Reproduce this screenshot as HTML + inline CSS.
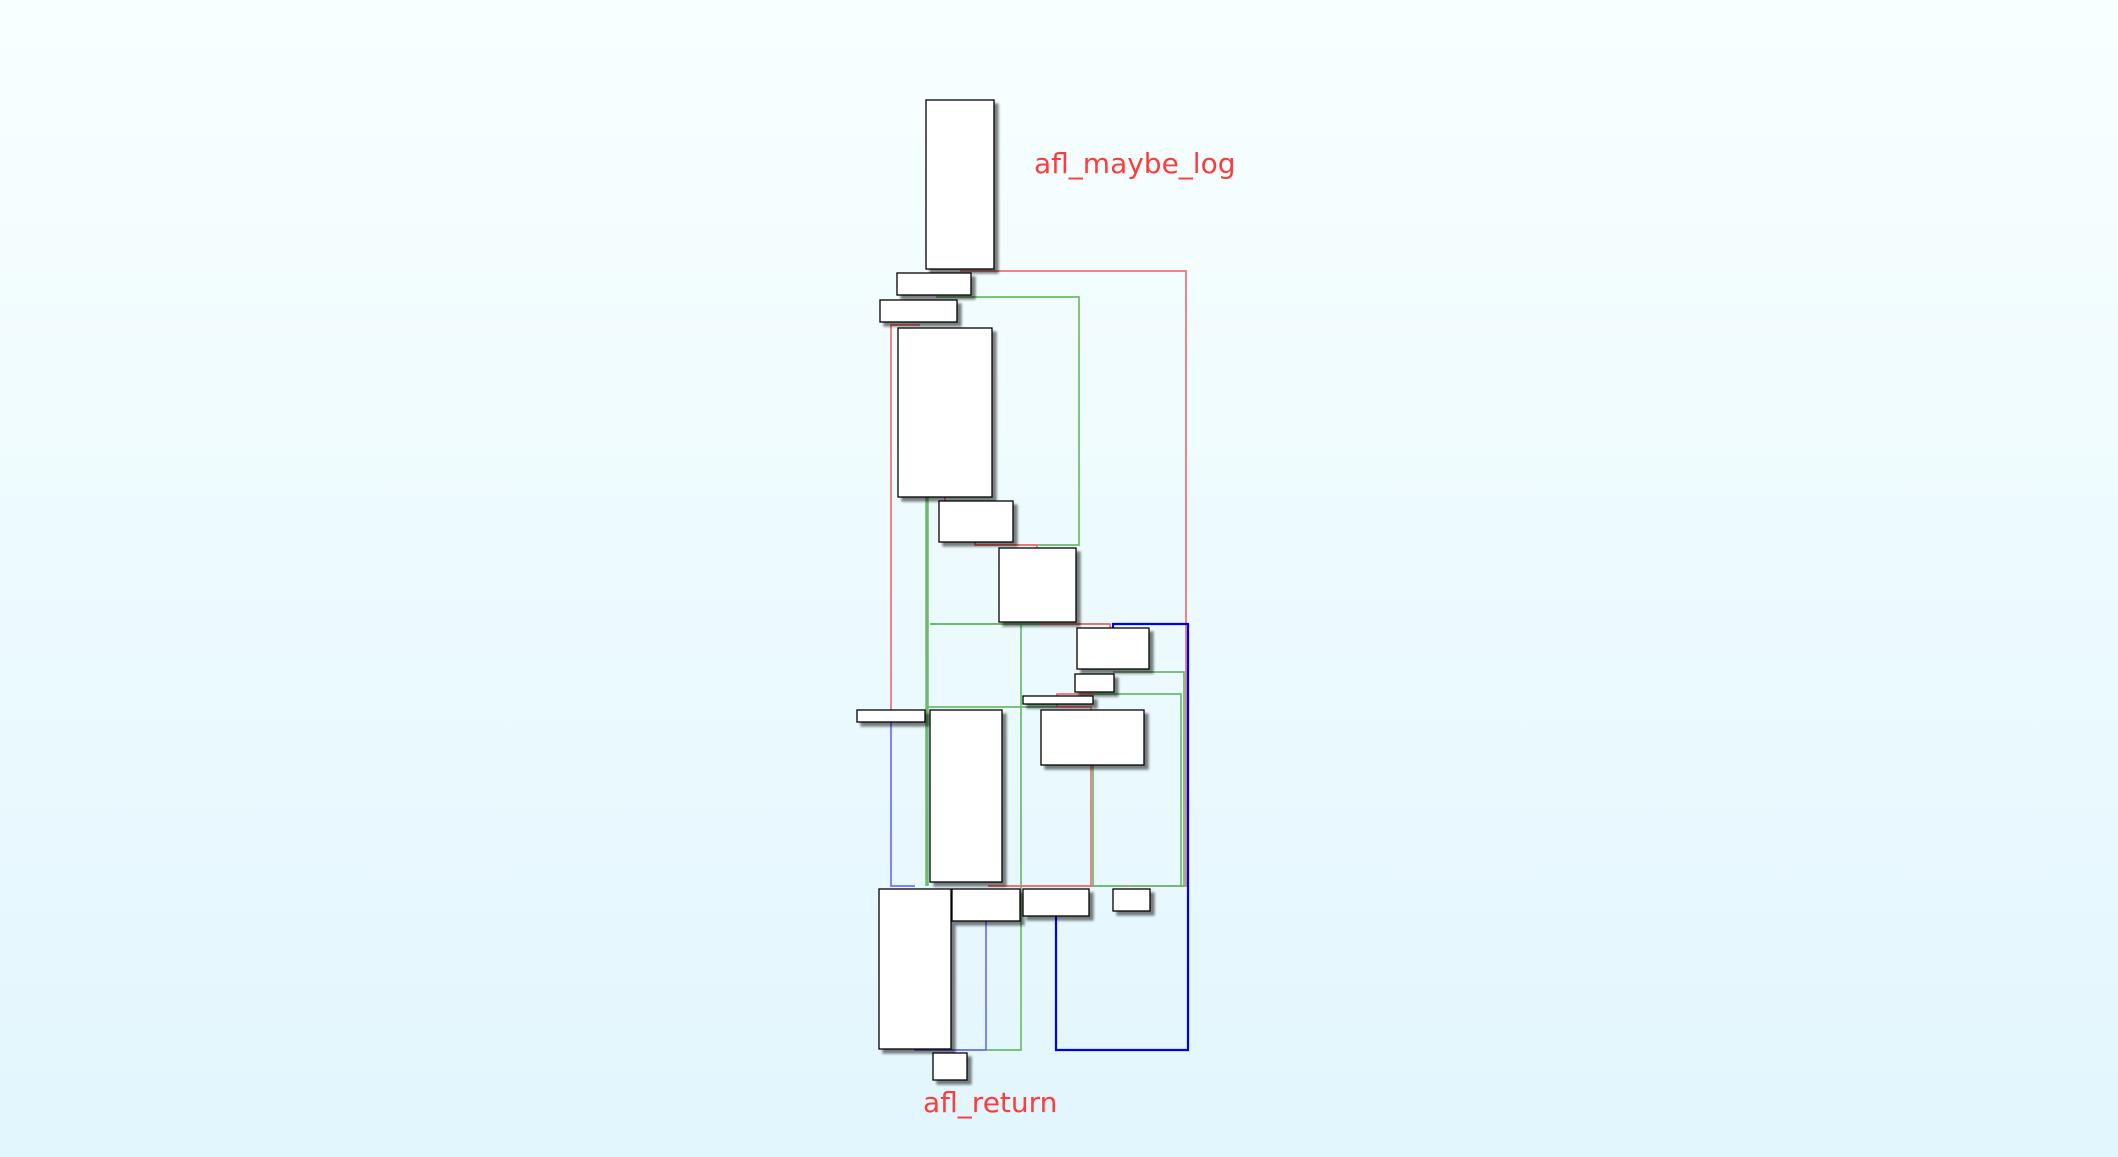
<!DOCTYPE html>
<html><head><meta charset="utf-8"><style>
html,body{margin:0;padding:0;}
body{width:2118px;height:1157px;overflow:hidden;background:linear-gradient(#f8ffff,#e2f6fd);}
svg{position:absolute;left:0;top:0;}
</style></head><body>
<svg width="2118" height="1157" viewBox="0 0 2118 1157" xmlns="http://www.w3.org/2000/svg">
<defs>
<filter id="sh" x="-20%" y="-20%" width="150%" height="150%">
<feGaussianBlur in="SourceAlpha" stdDeviation="1.2"/>
<feOffset dx="4" dy="4" result="o"/>
<feComponentTransfer><feFuncA type="linear" slope="0.5"/></feComponentTransfer>
<feMerge><feMergeNode/><feMergeNode in="SourceGraphic"/></feMerge>
</filter>
</defs>
<g fill="none" stroke-width="1.7">
<polyline stroke="#f07070" points="960,271 1186,271 1186,886 988,886"/>
<polyline stroke="#6cbb6c" points="936,297 1079,297 1079,545 975,545"/>
<polyline stroke="#f07070" points="920,325 891,325 891,710"/>
<polyline stroke="#7070ff" points="891,722 891,886 915,886"/>
<polyline stroke="#6cbb6c" stroke-width="3.5" points="927,497 927,886"/>
<polyline stroke="#6cbb6c" stroke-width="2" points="930,624 1110,624"/>
<polyline stroke="#f07070" points="1040,624 1110,624 1110,628"/>
<polyline stroke="#6cbb6c" points="1021,624 1021,1050 935,1050"/>
<polyline stroke="#6cbb6c" points="928,707 1057,707"/>
<polyline stroke="#7070ff" points="986,921 986,1050 945,1050"/>
<polyline stroke="#7070ff" points="915,1049 915,1050 950,1050"/>
<polyline stroke="#0000ee" stroke-width="2.2" points="1113,628 1113,624 1188,624 1188,1050 1056,1050 1056,916"/>
<polyline stroke="#f07070" points="1091,765 1091,886 988,886"/>
<polyline stroke="#6cbb6c" points="1093,765 1093,886 1128,886"/>
<polyline stroke="#6cbb6c" points="1113,672 1184,672 1184,886 1130,886"/>
<polyline stroke="#6cbb6c" points="1095,694 1181,694 1181,886"/>
<polyline stroke="#f07070" points="1057,696 1057,694 1095,694"/>
<polyline stroke="#f07070" points="1057,704 1057,707 1091,707 1091,710"/>
<polyline stroke="#f07070" points="975,542 975,545 1037,545 1037,548"/>
<polyline stroke="#f07070" points="945,497 945,501"/>
</g>
<g fill="#fff" stroke="#000" stroke-width="1.3" filter="url(#sh)">
<rect x="926" y="100" width="68" height="169"/>
<rect x="897" y="273" width="74" height="22"/>
<rect x="880" y="300" width="77" height="22"/>
<rect x="898" y="328" width="94" height="169"/>
<rect x="939" y="501" width="74" height="41"/>
<rect x="999" y="548" width="77" height="74"/>
<rect x="1077" y="628" width="72" height="41"/>
<rect x="1075" y="674" width="39" height="18"/>
<rect x="1023" y="696" width="70" height="8"/>
<rect x="857" y="710" width="68" height="12"/>
<rect x="930" y="710" width="72" height="172"/>
<rect x="1041" y="710" width="103" height="55"/>
<rect x="879" y="889" width="72" height="160"/>
<rect x="952" y="889" width="68" height="32"/>
<rect x="1023" y="889" width="66" height="27"/>
<rect x="1113" y="889" width="37" height="22"/>
<rect x="933" y="1053" width="34" height="27"/>
</g>
<text x="1034" y="173" fill="#ff3c3c" font-family="'DejaVu Sans','Liberation Sans',sans-serif" font-size="28">afl_maybe_log</text>
<text x="923" y="1112" fill="#ff3c3c" font-family="'DejaVu Sans','Liberation Sans',sans-serif" font-size="28">afl_return</text>
</svg>
</body></html>
